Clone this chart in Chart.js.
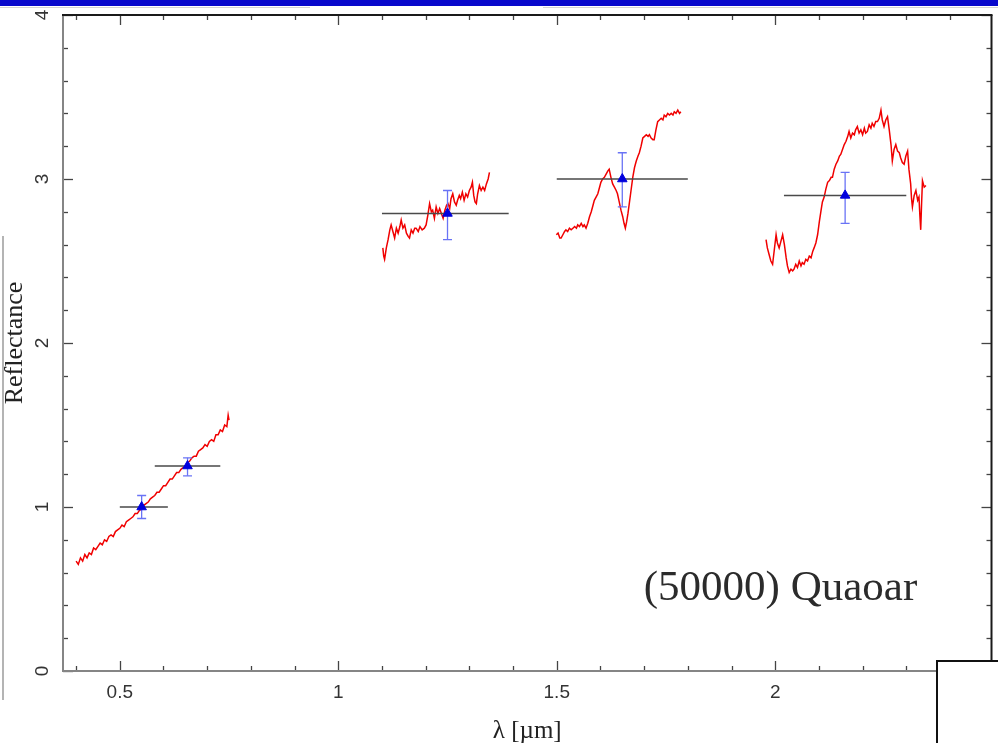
<!DOCTYPE html>
<html>
<head>
<meta charset="utf-8">
<title>(50000) Quaoar</title>
<script src="https://cdn.jsdelivr.net/npm/chart.js@4.4.1/dist/chart.umd.min.js"></script>
<style>
  html, body { margin: 0; padding: 0; background: #fff; }
  #wrap { position: relative; width: 998px; height: 743px; overflow: hidden; background: #fff; }
  #plot { position: absolute; left: 0; top: 0; }
  /* slide frame pieces around the figure */
  .bar-top { position: absolute; left: 0; top: 0; width: 998px; height: 6px; background: #0808cc; }
  .rule { position: absolute; background: #d4d4d4; }
  .corner-box { position: absolute; left: 936px; top: 660px; width: 80px; height: 100px;
                border-left: 2px solid #111; border-top: 2px solid #111; background: #fff; }
</style>
</head>
<body>
<div id="wrap">
  <canvas id="plot" width="998" height="743"></canvas>
  <div class="bar-top"></div>
  <div class="rule" style="left:0;top:7px;width:310px;height:1px"></div>
  <div class="rule" style="left:543px;top:7px;width:455px;height:1px"></div>
  <div class="rule" style="left:2px;top:236px;width:2px;height:464px;background:#b4b4b4"></div>
  <div class="corner-box"></div>
</div>
<script>
// axis ticks
const xMajor = [0.5, 1, 1.5, 2];
const xMinor = [0.4, 0.6, 0.7, 0.8, 0.9, 1.1, 1.2, 1.3, 1.4, 1.6, 1.7, 1.8, 1.9, 2.1, 2.2, 2.3, 2.4];
const yMajor = [0, 1, 2, 3, 4];
const yMinor = [0.2, 0.4, 0.6, 0.8, 1.2, 1.4, 1.6, 1.8, 2.2, 2.4, 2.6, 2.8, 3.2, 3.4, 3.6, 3.8];

// reflectance spectra, [wavelength µm, reflectance]
const specVis = [
  [0.400, 0.67], [0.405, 0.65], [0.410, 0.69], [0.415, 0.67], [0.420, 0.71], [0.425, 0.69],
  [0.430, 0.72], [0.435, 0.71], [0.440, 0.75], [0.445, 0.74], [0.450, 0.76], [0.455, 0.78],
  [0.460, 0.77], [0.465, 0.80], [0.470, 0.79], [0.475, 0.82], [0.480, 0.83], [0.485, 0.82],
  [0.490, 0.85], [0.495, 0.86], [0.500, 0.87], [0.505, 0.89], [0.510, 0.88], [0.515, 0.91],
  [0.520, 0.92], [0.525, 0.93], [0.530, 0.94], [0.535, 0.96], [0.540, 0.96], [0.545, 0.98],
  [0.550, 0.99], [0.555, 1.01], [0.560, 1.02], [0.565, 1.03], [0.570, 1.05], [0.575, 1.06],
  [0.580, 1.07], [0.585, 1.09], [0.590, 1.09], [0.595, 1.11], [0.600, 1.13], [0.605, 1.13],
  [0.610, 1.15], [0.615, 1.17], [0.620, 1.17], [0.625, 1.19], [0.630, 1.21], [0.635, 1.21],
  [0.640, 1.23], [0.645, 1.24], [0.650, 1.25], [0.655, 1.27], [0.660, 1.28], [0.665, 1.30],
  [0.670, 1.31], [0.675, 1.31], [0.680, 1.34], [0.685, 1.35], [0.690, 1.36], [0.695, 1.38],
  [0.700, 1.37], [0.705, 1.40], [0.710, 1.41], [0.715, 1.40], [0.720, 1.44], [0.725, 1.44],
  [0.730, 1.47], [0.735, 1.46], [0.740, 1.50], [0.745, 1.49], [0.748, 1.56], [0.750, 1.53],
];
const specJ = [
  [1.102, 2.58], [1.104, 2.53], [1.106, 2.51], [1.110, 2.58], [1.114, 2.63], [1.118, 2.69],
  [1.121, 2.72], [1.125, 2.68], [1.129, 2.64], [1.133, 2.70], [1.137, 2.67], [1.141, 2.71],
  [1.144, 2.75], [1.148, 2.70], [1.152, 2.72], [1.156, 2.67], [1.160, 2.65], [1.163, 2.64],
  [1.167, 2.69], [1.171, 2.67], [1.175, 2.70], [1.178, 2.70], [1.183, 2.68], [1.187, 2.71],
  [1.192, 2.69], [1.197, 2.70], [1.201, 2.72], [1.205, 2.78], [1.209, 2.85], [1.213, 2.80],
  [1.216, 2.81], [1.220, 2.76], [1.224, 2.83], [1.228, 2.79], [1.232, 2.82], [1.236, 2.79],
  [1.240, 2.76], [1.244, 2.81], [1.248, 2.84], [1.251, 2.85], [1.255, 2.82], [1.258, 2.88],
  [1.262, 2.91], [1.266, 2.86], [1.270, 2.84], [1.273, 2.87], [1.277, 2.90], [1.280, 2.88],
  [1.284, 2.92], [1.288, 2.87], [1.292, 2.91], [1.296, 2.89], [1.300, 2.93], [1.304, 2.95],
  [1.307, 2.98], [1.310, 2.90], [1.313, 2.86], [1.316, 2.85], [1.319, 2.91], [1.323, 2.96],
  [1.327, 2.93], [1.331, 2.95], [1.335, 2.93], [1.339, 2.97], [1.343, 3.00], [1.346, 3.04],
];
const specH = [
  [1.499, 2.66], [1.503, 2.67], [1.507, 2.64], [1.510, 2.64], [1.514, 2.66], [1.518, 2.68],
  [1.521, 2.69], [1.525, 2.68], [1.529, 2.70], [1.533, 2.69], [1.537, 2.70], [1.541, 2.71],
  [1.545, 2.70], [1.548, 2.72], [1.552, 2.71], [1.556, 2.73], [1.560, 2.71], [1.563, 2.72],
  [1.567, 2.70], [1.571, 2.73], [1.575, 2.77], [1.579, 2.80], [1.583, 2.84], [1.586, 2.87],
  [1.590, 2.89], [1.594, 2.91], [1.598, 2.95], [1.601, 2.98], [1.605, 3.00], [1.609, 3.01],
  [1.613, 3.03], [1.617, 3.05], [1.620, 3.06], [1.624, 3.01], [1.628, 2.97], [1.632, 2.95],
  [1.636, 2.93], [1.639, 2.91], [1.643, 2.86], [1.647, 2.81], [1.651, 2.77], [1.654, 2.73],
  [1.657, 2.70], [1.660, 2.74], [1.663, 2.79], [1.666, 2.85], [1.670, 2.93], [1.674, 3.01],
  [1.678, 3.07], [1.682, 3.11], [1.686, 3.14], [1.689, 3.16], [1.693, 3.20], [1.697, 3.25],
  [1.701, 3.26], [1.705, 3.27], [1.709, 3.26], [1.712, 3.27], [1.716, 3.25], [1.720, 3.24],
  [1.723, 3.24], [1.727, 3.30], [1.731, 3.35], [1.735, 3.36], [1.739, 3.37], [1.743, 3.36],
  [1.746, 3.39], [1.750, 3.38], [1.754, 3.40], [1.758, 3.39], [1.762, 3.40], [1.766, 3.39],
  [1.769, 3.41], [1.773, 3.40], [1.777, 3.42], [1.781, 3.40], [1.784, 3.41],
];
const specK = [
  [1.979, 2.63], [1.982, 2.58], [1.986, 2.54], [1.990, 2.50], [1.994, 2.48], [1.998, 2.57],
  [2.002, 2.66], [2.005, 2.61], [2.009, 2.58], [2.013, 2.62], [2.017, 2.66], [2.021, 2.60],
  [2.025, 2.52], [2.028, 2.47], [2.032, 2.43], [2.036, 2.45], [2.040, 2.44], [2.043, 2.45],
  [2.047, 2.48], [2.051, 2.46], [2.055, 2.50], [2.059, 2.47], [2.062, 2.49], [2.066, 2.48],
  [2.070, 2.51], [2.074, 2.50], [2.078, 2.53], [2.082, 2.52], [2.086, 2.56], [2.089, 2.58],
  [2.093, 2.61], [2.097, 2.66], [2.101, 2.74], [2.105, 2.81], [2.108, 2.86], [2.112, 2.89],
  [2.116, 2.94], [2.120, 2.98], [2.124, 2.99], [2.128, 3.01], [2.131, 3.01], [2.135, 3.06],
  [2.139, 3.09], [2.143, 3.11], [2.147, 3.14], [2.150, 3.15], [2.154, 3.18], [2.158, 3.21],
  [2.162, 3.23], [2.166, 3.26], [2.169, 3.29], [2.173, 3.25], [2.177, 3.28], [2.181, 3.27],
  [2.184, 3.30], [2.188, 3.32], [2.192, 3.28], [2.196, 3.30], [2.200, 3.27], [2.204, 3.31],
  [2.207, 3.28], [2.211, 3.29], [2.215, 3.33], [2.219, 3.31], [2.222, 3.34], [2.226, 3.32],
  [2.230, 3.35], [2.234, 3.35], [2.238, 3.37], [2.242, 3.42], [2.245, 3.36], [2.249, 3.32],
  [2.253, 3.36], [2.257, 3.38], [2.261, 3.30], [2.265, 3.21], [2.268, 3.11], [2.272, 3.18],
  [2.276, 3.21], [2.280, 3.17], [2.284, 3.16], [2.287, 3.13], [2.291, 3.10], [2.295, 3.09],
  [2.299, 3.14], [2.303, 3.17], [2.306, 3.06], [2.310, 2.97], [2.312, 2.88], [2.314, 2.83],
  [2.318, 2.90], [2.322, 2.93], [2.326, 2.87], [2.329, 2.89], [2.331, 2.78], [2.333, 2.69],
  [2.335, 2.85], [2.337, 2.99], [2.341, 2.95], [2.345, 2.96],
];

// broadband photometry (V, R, J, H, K)
const photWl = [0.55, 0.655, 1.25, 1.65, 2.16];
const photRefl = [1.00, 1.25, 2.79, 3.00, 2.90];
const errLo = [0.93, 1.19, 2.63, 2.83, 2.73];
const errHi = [1.07, 1.30, 2.93, 3.16, 3.04];
const bandLo = [0.50, 0.58, 1.10, 1.50, 2.02];
const bandHi = [0.61, 0.73, 1.39, 1.80, 2.30];

const OBJECT_NAME = "(50000) Quaoar";
const NAME_AT = [2.325, 0.433];

const toXY = (arr) => arr.map(([x, y]) => ({ x, y }));

function spectrum(arr) {
  return {
    data: toXY(arr),
    showLine: true,
    borderColor: "rgb(240, 0, 0)",
    borderWidth: 1.5,
    pointRadius: 0,
    tension: 0,
    order: 4,
  };
}

// filter widths as broken horizontal segments
const bandSegs = [];
photWl.forEach((_, i) => {
  bandSegs.push({ x: bandLo[i], y: photRefl[i] }, { x: bandHi[i], y: photRefl[i] }, { x: bandHi[i], y: null });
});
// vertical error bars
const errSegs = [];
photWl.forEach((w, i) => {
  errSegs.push({ x: w, y: errLo[i] }, { x: w, y: errHi[i] }, { x: w, y: null });
});
const errCaps = [];
photWl.forEach((w, i) => {
  errCaps.push({ x: w, y: errLo[i] }, { x: w, y: errHi[i] });
});

// inward ticks on all four sides plus the box frame
const framePlugin = {
  id: "frame",
  afterDraw(chart) {
    const { ctx, chartArea: a, scales } = chart;
    const xs = scales.x, ys = scales.y;
    ctx.save();
    ctx.lineCap = "butt";

    const tick = (x1, y1, x2, y2) => { ctx.beginPath(); ctx.moveTo(x1, y1); ctx.lineTo(x2, y2); ctx.stroke(); };

    ctx.strokeStyle = "#444";
    ctx.lineWidth = 1.3;
    xMajor.forEach((v) => {
      const p = Math.round(xs.getPixelForValue(v)) + 0.5;
      tick(p, a.bottom, p, a.bottom - 10);
      tick(p, a.top, p, a.top + 10);
    });
    xMinor.forEach((v) => {
      const p = Math.round(xs.getPixelForValue(v)) + 0.5;
      tick(p, a.bottom, p, a.bottom - 5);
      tick(p, a.top, p, a.top + 5);
    });
    yMajor.forEach((v) => {
      const p = Math.round(ys.getPixelForValue(v)) + 0.5;
      tick(a.left, p, a.left + 10, p);
      tick(a.right, p, a.right - 10, p);
    });
    yMinor.forEach((v) => {
      const p = Math.round(ys.getPixelForValue(v)) + 0.5;
      tick(a.left, p, a.left + 5, p);
      tick(a.right, p, a.right - 5, p);
    });

    // left / bottom in grey, top / right in black
    ctx.lineWidth = 2;
    ctx.strokeStyle = "#858585";
    tick(a.left, a.top, a.left, a.bottom + 1);
    tick(a.left - 1, a.bottom, a.right, a.bottom);
    ctx.strokeStyle = "#1a1a1a";
    tick(a.left - 1, a.top, a.right + 1, a.top);
    tick(a.right, a.top, a.right, a.bottom);
    ctx.restore();
  },
  afterDatasetsDraw(chart) {
    const { ctx, scales } = chart;
    ctx.save();
    ctx.font = "43px 'Liberation Serif', 'Times New Roman', serif";
    ctx.fillStyle = "#2b2b2b";
    ctx.textAlign = "right";
    ctx.textBaseline = "alphabetic";
    ctx.fillText(OBJECT_NAME, scales.x.getPixelForValue(NAME_AT[0]), scales.y.getPixelForValue(NAME_AT[1]));
    ctx.restore();
  },
};

new Chart(document.getElementById("plot"), {
  type: "scatter",
  data: {
    datasets: [
      {
        data: photWl.map((x, i) => ({ x, y: photRefl[i] })),
        pointStyle: "triangle",
        pointRadius: 5.5,
        backgroundColor: "#0000dd",
        borderColor: "#0000dd",
        borderWidth: 1,
        order: 0,
      },
      {
        data: errCaps,
        pointStyle: "line",
        pointRadius: 4.5,
        borderColor: "rgb(105, 115, 245)",
        borderWidth: 1.3,
        order: 1,
      },
      {
        data: errSegs,
        showLine: true,
        spanGaps: false,
        pointRadius: 0,
        borderColor: "rgb(105, 115, 245)",
        borderWidth: 1.3,
        order: 2,
      },
      {
        data: bandSegs,
        showLine: true,
        spanGaps: false,
        pointRadius: 0,
        borderColor: "#4a4a4a",
        borderWidth: 1.5,
        order: 3,
      },
      spectrum(specVis),
      spectrum(specJ),
      spectrum(specH),
      spectrum(specK),
    ],
  },
  options: {
    responsive: false,
    animation: false,
    events: [],
    devicePixelRatio: 1,
    layout: { padding: { left: 0, right: 5, top: 15, bottom: 0 } },
    plugins: { legend: { display: false }, tooltip: { enabled: false } },
    scales: {
      x: {
        type: "linear",
        min: 0.37,
        max: 2.495,
        grid: { display: false },
        border: { display: false },
        afterBuildTicks: (s) => { s.ticks = xMajor.map((v) => ({ value: v })); },
        afterFit: (s) => { s.height = 72; s.paddingLeft = 0; s.paddingRight = 0; },
        ticks: {
          autoSkip: false,
          maxRotation: 0,
          padding: 2,
          color: "#333",
          font: { family: "'Liberation Sans', Arial, sans-serif", size: 19 },
          callback: (v) => String(v),
        },
        title: {
          display: true,
          text: "λ [µm]",
          color: "#222",
          padding: { top: 0, bottom: -3 },
          font: { family: "'Liberation Serif', serif", size: 25 },
        },
      },
      y: {
        type: "linear",
        min: 0,
        max: 4,
        grid: { display: false },
        border: { display: false },
        afterBuildTicks: (s) => { s.ticks = yMajor.map((v) => ({ value: v })); },
        // rotated labels would otherwise push the plot area down
        afterFit: (s) => { s.width = 63; s.paddingTop = 0; s.paddingBottom = 0; },
        ticks: {
          minRotation: 90,
          maxRotation: 90,
          crossAlign: "center",
          padding: 7,
          color: "#333",
          font: { family: "'Liberation Sans', Arial, sans-serif", size: 19 },
          callback: (v) => String(v),
        },
        title: {
          display: true,
          text: "Reflectance",
          color: "#222",
          padding: { top: 0, bottom: 0 },
          font: { family: "'Liberation Serif', serif", size: 26 },
        },
      },
    },
  },
  plugins: [framePlugin],
});
</script>
</body>
</html>
